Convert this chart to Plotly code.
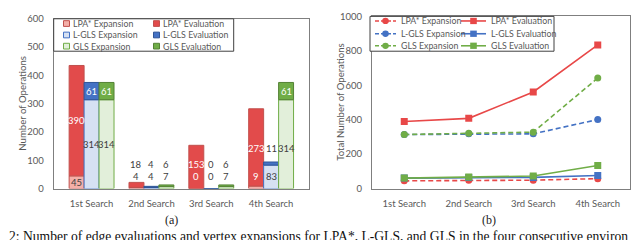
import plotly.graph_objects as go

# ---------------- data ----------------
searches = ["1st Search", "2nd Search", "3rd Search", "4th Search"]

# (a) per-search operations (stacked: expansion bottom, evaluation top)
lpa_exp = [45, 4, 0, 9]
lpa_eval = [390, 18, 153, 273]
lgls_exp = [314, 4, 0, 83]
lgls_eval = [61, 4, 0, 11]
gls_exp = [314, 7, 7, 314]
gls_eval = [61, 6, 6, 61]

# (b) total (accumulated) operations
tot_lpa_exp = [45, 49, 49, 58]
tot_lpa_eval = [390, 408, 561, 834]
tot_lgls_exp = [314, 318, 318, 401]
tot_lgls_eval = [61, 65, 65, 76]
tot_gls_exp = [314, 321, 328, 642]
tot_gls_eval = [61, 67, 73, 134]

y_ticks_a = [0, 100, 200, 300, 400, 500, 600]
y_ticks_b = [0, 200, 400, 600, 800, 1000]

# ---------------- styles ----------------
W, H = 640, 240
FONT = "Lato"
GRAY = "#595959"
RED, RED_L, RED_B = "#E24B4B", "#F4AFA8", "#C0504D"
BLUE, BLUE_L, BLUE_B = "#4472C4", "#D6E1F3", "#2F5597"
GREEN, GREEN_L, GREEN_B = "#70AD47", "#E2EFDA", "#548235"
LRED, LBLUE, LGREEN = "#E84848", "#4472C4", "#70AD47"


def px(x):
    return x / W


def py(y):
    return 1 - y / H


fig = go.Figure()

bar_w = 0.25
groups = [
    (lpa_exp, lpa_eval, -0.375, RED_L, RED_B, RED, RED_B),
    (lgls_exp, lgls_eval, -0.125, BLUE_L, BLUE, BLUE, BLUE_B),
    (gls_exp, gls_eval, 0.125, GREEN_L, GREEN, GREEN, GREEN_B),
]
for exp, ev, off, c_exp, b_exp, c_ev, b_ev in groups:
    fig.add_trace(go.Bar(x=searches, y=exp, offset=off, width=bar_w,
                         marker=dict(color=c_exp, line=dict(color=b_exp, width=1)),
                         showlegend=False, xaxis="x", yaxis="y"))
    fig.add_trace(go.Bar(x=searches, y=ev, base=exp, offset=off, width=bar_w,
                         marker=dict(color=c_ev, line=dict(color=b_ev, width=1)),
                         showlegend=False, xaxis="x", yaxis="y"))

# (b) lines
lines = [
    (tot_lpa_exp, LRED, "dash", "circle"),
    (tot_lpa_eval, LRED, "solid", "square"),
    (tot_lgls_exp, LBLUE, "dash", "circle"),
    (tot_lgls_eval, LBLUE, "solid", "square"),
    (tot_gls_exp, LGREEN, "dash", "circle"),
    (tot_gls_eval, LGREEN, "solid", "square"),
]
for vals, col, dash, sym in lines:
    fig.add_trace(go.Scatter(x=searches, y=vals, mode="lines+markers",
                             line=dict(color=col, width=1.6, dash="5px,3px" if dash == "dash" else "solid"),
                             marker=dict(symbol=sym, size=7, color=col),
                             showlegend=False, xaxis="x2", yaxis="y2"))

# ---------------- data labels (a) ----------------
WHITE, DARK = "#FFFFFF", "#404040"
# (series values, search index, bar offset centre, label y-position in data units, colour)
label_specs = [
    (lpa_eval, 0, -0.25, 239, WHITE), (lpa_exp, 0, -0.25, 21, DARK),
    (lgls_eval, 0, 0.0, 344, WHITE), (lgls_exp, 0, 0.0, 157, DARK),
    (gls_eval, 0, 0.25, 344, WHITE), (gls_exp, 0, 0.25, 157, DARK),
    (lpa_eval, 1, -0.25, 84, DARK), (lgls_eval, 1, 0.0, 84, DARK), (gls_eval, 1, 0.25, 84, DARK),
    (lpa_exp, 1, -0.25, 44, DARK), (lgls_exp, 1, 0.0, 44, DARK), (gls_exp, 1, 0.25, 44, DARK),
    (lpa_eval, 2, -0.25, 84, WHITE), (lgls_eval, 2, 0.0, 84, DARK), (gls_eval, 2, 0.25, 84, DARK),
    (lpa_exp, 2, -0.25, 44, WHITE), (lgls_exp, 2, 0.0, 44, DARK), (gls_exp, 2, 0.25, 44, DARK),
    (lpa_eval, 3, -0.25, 142, WHITE), (lgls_eval, 3, 0.0, 142, DARK), (gls_exp, 3, 0.25, 142, DARK),
    (lpa_exp, 3, -0.25, 44, WHITE), (lgls_exp, 3, 0.0, 44, DARK), (gls_eval, 3, 0.25, 344, WHITE),
]
annotations = []
for vals, i, off, yv, col in label_specs:
    annotations.append(dict(x=i + off, y=yv, xref="x", yref="y", text=str(vals[i]),
                            showarrow=False, font=dict(family=FONT, size=9.5, color=col),
                            xanchor="center", yanchor="middle"))

# axis titles
annotations.append(dict(x=px(15), y=py(94), xref="paper", yref="paper", text="Number of Operations",
                        textangle=-90, showarrow=False, xanchor="center", yanchor="middle",
                        font=dict(family=FONT, size=9.6, color=GRAY)))
annotations.append(dict(x=px(333), y=py(93), xref="paper", yref="paper", text="Total Number of Operations",
                        textangle=-90, showarrow=False, xanchor="center", yanchor="middle",
                        font=dict(family=FONT, size=9.6, color=GRAY)))
# sub captions
annotations.append(dict(x=px(163), y=py(216), xref="paper", yref="paper", text="(a)", showarrow=False,
                        xanchor="center", yanchor="middle",
                        font=dict(family="Liberation Serif", size=12, color="#222")))
annotations.append(dict(x=px(481), y=py(216), xref="paper", yref="paper", text="(b)", showarrow=False,
                        xanchor="center", yanchor="middle",
                        font=dict(family="Liberation Serif", size=12, color="#222")))
annotations.append(dict(x=px(-1), y=py(233), xref="paper", yref="paper", xanchor="left", yanchor="middle",
                        text="2: Number of edge evaluations and vertex expansions for LPA*, L-GLS, and GLS in the four consecutive environ",
                        showarrow=False, font=dict(family="Liberation Serif", size=13.6, color="#111")))

shapes = []
# ---------------- legend (a) ----------------
shapes.append(dict(type="rect", xref="paper", yref="paper", x0=px(45.7), x1=px(225.7), y0=py(39), y1=py(5),
                   line=dict(color="#404040", width=1), fillcolor="white", layer="above"))
leg_a = [
    ("LPA* Expansion", RED_L, RED_B, 0, 0), ("LPA* Evaluation", RED, RED_B, 1, 0),
    ("L-GLS Expansion", BLUE_L, BLUE, 0, 1), ("L-GLS Evaluation", BLUE, BLUE_B, 1, 1),
    ("GLS Expansion", GREEN_L, GREEN, 0, 2), ("GLS Evaluation", GREEN, GREEN_B, 1, 2),
]
col_x_a = [58.5, 148.5]
row_y_a = [10, 22, 33.7]
for name, fc, lc, c, r in leg_a:
    cx, cy = col_x_a[c], row_y_a[r]
    shapes.append(dict(type="rect", xref="paper", yref="paper", x0=px(cx - 3), x1=px(cx + 3),
                       y0=py(cy + 3), y1=py(cy - 3), fillcolor=fc, line=dict(color=lc, width=1), layer="above"))
    annotations.append(dict(x=px(cx + 4.5), y=py(cy), xref="paper", yref="paper", xanchor="left",
                            yanchor="middle", text=name, showarrow=False,
                            font=dict(family=FONT, size=8.8, color=GRAY)))

# ---------------- legend (b) ----------------
shapes.append(dict(type="rect", xref="paper", yref="paper", x0=px(362), x1=px(546), y0=py(39), y1=py(2.5),
                   line=dict(color="#404040", width=1), fillcolor="white", layer="above"))
leg_b = [
    ("LPA* Expansion", LRED, "dash", "circle", 0, 0), ("LPA* Evaluation", LRED, "solid", "square", 1, 0),
    ("L-GLS Expansion", LBLUE, "dash", "circle", 0, 1), ("L-GLS Evaluation", LBLUE, "solid", "square", 1, 1),
    ("GLS Expansion", LGREEN, "dash", "circle", 0, 2), ("GLS Evaluation", LGREEN, "solid", "square", 1, 2),
]
col_b = [(367, 388), (453, 478)]
row_y_b = [7.3, 20.7, 33.3]
for name, col, dash, sym, c, r in leg_b:
    x0, x1 = col_b[c]
    cy = row_y_b[r]
    cx = (x0 + x1) / 2
    shapes.append(dict(type="line", xref="paper", yref="paper", x0=px(x0), x1=px(x1), y0=py(cy), y1=py(cy),
                       line=dict(color=col, width=1.6, dash="4px,2px" if dash == "dash" else "solid"),
                       layer="above"))
    shapes.append(dict(type="circle" if sym == "circle" else "rect", xref="paper", yref="paper",
                       x0=px(cx - 3.3), x1=px(cx + 3.3), y0=py(cy + 3.3), y1=py(cy - 3.3),
                       fillcolor=col, line=dict(color=col, width=0), layer="above"))
    annotations.append(dict(x=px(x1 + 3), y=py(cy), xref="paper", yref="paper", xanchor="left",
                            yanchor="middle", text=name, showarrow=False,
                            font=dict(family=FONT, size=8.8, color=GRAY)))

axis_common = dict(showgrid=False, zeroline=False, showline=True, mirror=True,
                   linecolor="#7f7f7f", linewidth=1, ticks="", ticklabeloverflow="allow",
                   tickfont=dict(family=FONT, size=9.5, color=GRAY))

fig.update_layout(
    width=W, height=H, margin=dict(l=0, r=0, t=0, b=0),
    paper_bgcolor="white", plot_bgcolor="white", barmode="overlay",
    xaxis=dict(domain=[px(45.7), px(301)], range=[-0.633, 3.633], type="category",
               ticklabelstandoff=6, anchor="y", **axis_common),
    yaxis=dict(domain=[py(183), py(5)], range=[0, 600], tickvals=y_ticks_a,
               ticklabelstandoff=7, anchor="x", **axis_common),
    xaxis2=dict(domain=[px(364), px(622)], range=[-0.5, 3.5], type="category",
                ticklabelstandoff=6, anchor="y2", **axis_common),
    yaxis2=dict(domain=[py(183), py(2.5)], range=[0, 1000], tickvals=y_ticks_b,
                ticklabelstandoff=7, anchor="x2", **axis_common),
    annotations=annotations, shapes=shapes, showlegend=False,
)

fig.write_html("out.html")
